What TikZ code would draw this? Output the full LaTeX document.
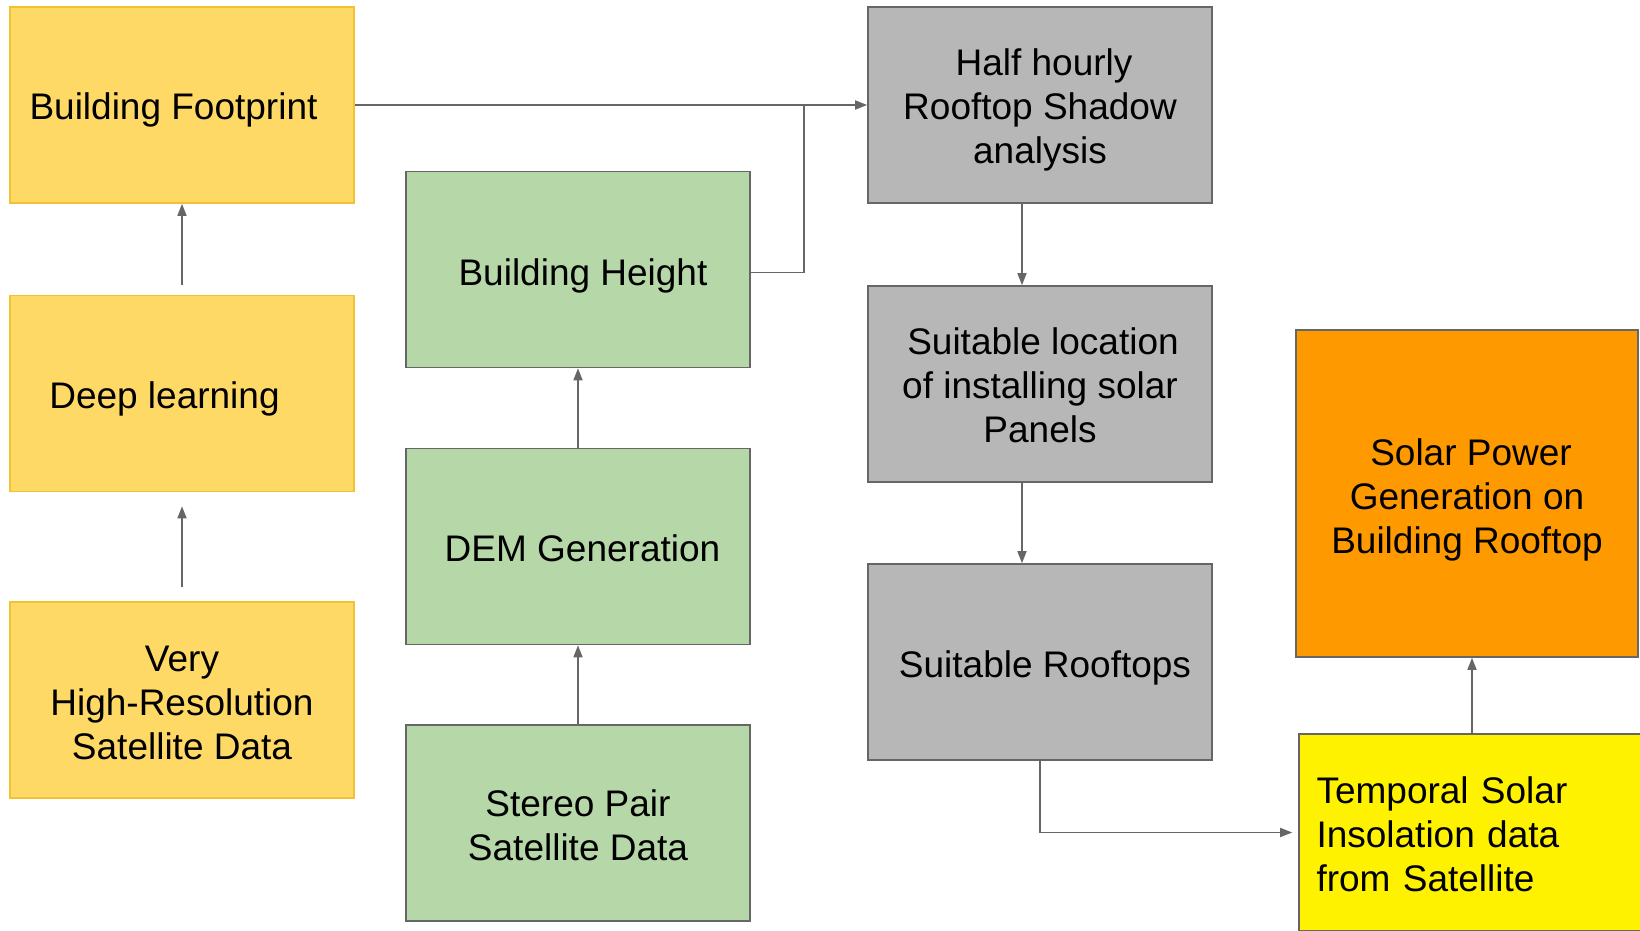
\documentclass[tikz,border=0pt]{standalone}
\usepackage{fontspec}
\setmainfont{Liberation Sans}
\usetikzlibrary{arrows.meta}
\definecolor{ylw}{HTML}{FFD966}
\definecolor{ylwline}{HTML}{F1C232}
\definecolor{grn}{HTML}{B6D7A8}
\definecolor{gry}{HTML}{B7B7B7}
\definecolor{org}{HTML}{FF9900}
\definecolor{lin}{HTML}{666666}
\newcommand{\dn}[1]{\rule{0pt}{\dimexpr27pt+#1pt*2\relax}}

\begin{document}
\begin{tikzpicture}[x=1pt,y=-1pt,
        box/.style={draw=lin,line width=1.6pt,minimum width=344pt,minimum height=196pt,inner sep=0pt,align=center,font=\fontsize{37}{44}\selectfont},
        ln/.style={draw=lin,line width=1.6pt},
        fw/.style={ln,-{Triangle[length=12pt,width=9pt]}}]
        \pgfmathsetmacro{\dx}{18}
        \useasboundingbox (0,0) rectangle (1640,930);
        \node[box,fill=ylw,draw=ylwline] (bf) at (182,105) {\dn{5}Building Footprint\hspace{17pt}};
        \node[box,fill=ylw,draw=ylwline] (dl) at (182,393.5) {\dn{5}Deep learning\hspace{35pt}};
        \node[box,fill=ylw,draw=ylwline] (vhr) at (182,700) {\dn{2}Very\\High-Resolution\\Satellite Data};
        \node[box,fill=grn] (bh) at (578,269.5) {\dn{6}\hspace*{10pt}Building Height};
        \node[box,fill=grn] (dem) at (578,546.5) {\dn{2}\hspace*{9pt}DEM Generation};
        \node[box,fill=grn] (sp) at (578,823) {\dn{2}Stereo Pair\\Satellite Data};
        \node[box,fill=gry] (hh) at (1040,105) {\dn{5}\hspace*{8pt}Half hourly\\Rooftop Shadow\\analysis};
        \node[box,fill=gry] (sl) at (1040,384) {\dn{1}\hspace*{6pt}Suitable location\\of installing solar\\Panels};
        \node[box,fill=gry] (sr) at (1040,662) {\dn{6}\hspace*{10pt}Suitable Rooftops};
        \node[box,fill=org,minimum width=342pt,minimum height=327pt] (pw) at (1467,493.5) {\dn{6}\hspace*{8pt}Solar Power\\Generation on\\Building Rooftop};
        \node[box,fill=yellow,minimum width=342pt,minimum height=197pt,text width=307pt,inner xsep=17.5pt,align=left] (ins) at (1470,832.5) {\dn{2}Temporal Solar\\Insolation data\\from Satellite};
        \coordinate (jn) at (804,105);
        \draw[fw] (bf) -- (hh);
        \draw[ln] ([yshift=-3pt]bh.east) -| (jn);
        \draw[fw,shorten <=10pt] (dl) -- (bf);
        \draw[fw,shorten <=14pt,shorten >=14pt] (vhr) -- (dl);
        \draw[fw] (sp) -- (dem);
        \draw[fw] (dem) -- (bh);
        \draw[fw] ([xshift=-\dx pt]hh.south) -- ([xshift=-\dx pt]sl.north);
        \draw[fw] ([xshift=-\dx pt]sl.south) -- ([xshift=-\dx pt]sr.north);
        \draw[fw,shorten >=6pt] (sr.south) |- (ins.west);
        \draw[fw] ([xshift=2pt]ins.north) -- ([xshift=2pt]pw.south -| ins.north);
    \end{tikzpicture}
\end{document}
